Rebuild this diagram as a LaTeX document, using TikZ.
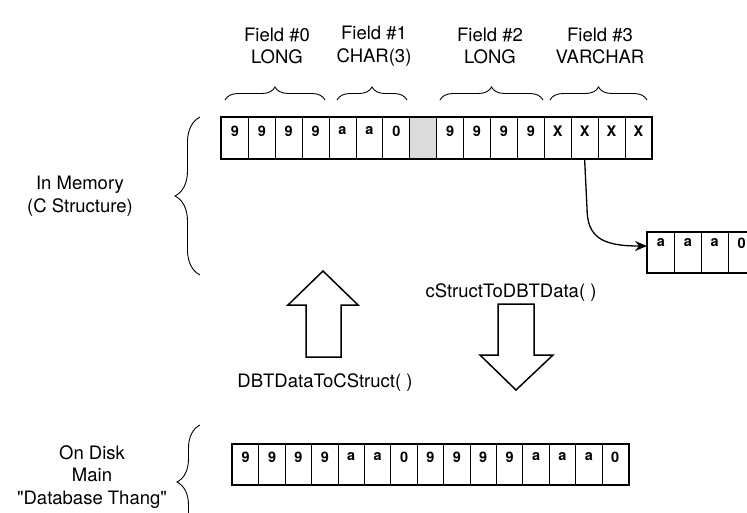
\documentclass[tikz,border=0pt]{standalone}
\usepackage{fontspec}
\setmainfont{TeX Gyre Heros}[Ligatures=TeXOff]
\usetikzlibrary{arrows.meta,decorations.pathreplacing}

\begin{document}
\begin{tikzpicture}[x=1pt,y=-1pt,
  cell/.style={draw, line width=0.9pt, minimum width=26.9pt, minimum height=41pt,
               inner sep=0pt, anchor=north west},
  plain/.style={},
  shaded/.style={fill=gray!28},
  celltext/.style={font=\fontsize{14.5}{15}\selectfont\bfseries, inner sep=0pt, anchor=center},
  txt/.style={font=\fontsize{18.5}{22.5}\selectfont, align=center, inner sep=0pt},
  brc/.style={decorate, decoration={brace, amplitude=#1}, line width=0.9pt},
  blockarrow/.style={draw, line width=1.5pt, line join=miter},
  frame/.style={line width=1.7pt},
]
\useasboundingbox (0,0) rectangle (747,512);
\clip (0,0) rectangle (747,512);

% ---- in-memory C structure: sixteen bytes, one of them padding
\foreach \t/\s [count=\i from 0] in {9/plain,9/plain,9/plain,9/plain,a/plain,a/plain,0/plain,{}/shaded,
                                      9/plain,9/plain,9/plain,9/plain,X/plain,X/plain,X/plain,X/plain}{
  \node[cell,\s] (t\i) at ({221+26.9*\i},117) {};
  \node[celltext] (tt\i) at ([yshift=-14pt]t\i.north) {\t};
}
\draw[frame] (t0.north west) rectangle (t15.south east);

% ---- varchar data held outside the structure
\foreach \t [count=\i from 0] in {a,a,a,0}{
  \node[cell, minimum height=40pt] (r\i) at ({647+26.9*\i},232) {};
  \node[celltext] (rt\i) at ([yshift=-11pt]r\i.north) {\t};
}
\draw[frame] (r0.north west) rectangle (r3.south east);

% ---- on-disk record
\foreach \t [count=\i from 0] in {9,9,9,9,a,a,0,9,9,9,9,a,a,a,0}{
  \node[cell, minimum width=26.4pt, minimum height=40pt] (b\i) at ({232+26.4*\i},444) {};
  \node[celltext] (bt\i) at ([yshift=-13pt]b\i.north) {\t};
}
\draw[frame] (b0.north west) rectangle (b14.south east);

% ---- pointer from the varchar field to its data
\coordinate (bend) at (587,208);
\coordinate (tipin) at (647,246);
\draw[line width=1.3pt, -{Stealth[length=12pt,width=10pt,inset=4pt]}]
  (t13.south) -- (bend) .. controls (587,238) and (603,246) .. (tipin);

% ---- field headings
\node[txt] (f0) at (277,46) {Field \#0\\LONG};
\node[txt] (f1) at (374,46) {Field \#1\\CHAR(3)};
\node[txt] (f2) at (490,46) {Field \#2\\LONG};
\node[txt] (f3) at (600,46) {Field \#3\\VARCHAR};

\draw[brc=13pt] (225,100) -- (325,100);
\draw[brc=13pt] (337,100) -- (407,100);
\draw[brc=13pt] (440,100) -- (543,100);
\draw[brc=13pt] (550,100) -- (647,100);

% ---- side labels
\node[txt] (mem) at (80,196) {In Memory\\(C Structure)};
\draw[brc=25pt] (200,275) -- (200,117);

\node[txt] (disk) at (92,477) {On Disk\\Main\\"Database Thang"};
\draw[brc=23pt] (200,539) -- (200,425);

% ---- conversion arrows
\draw[blockarrow] (306,357) -- (306,305) -- (288,305) -- (323,271) -- (358,305)
  -- (341,305) -- (341,357) -- cycle;
\node[txt] (toc) at (325,383) {DBTDataToCStruct( )};

\draw[blockarrow] (498,304) -- (534,304) -- (534,355) -- (553,355) -- (516,390)
  -- (480,355) -- (498,355) -- cycle;
\node[txt] (tod) at (511,293) {cStructToDBTData( )};
\end{tikzpicture}
\end{document}
